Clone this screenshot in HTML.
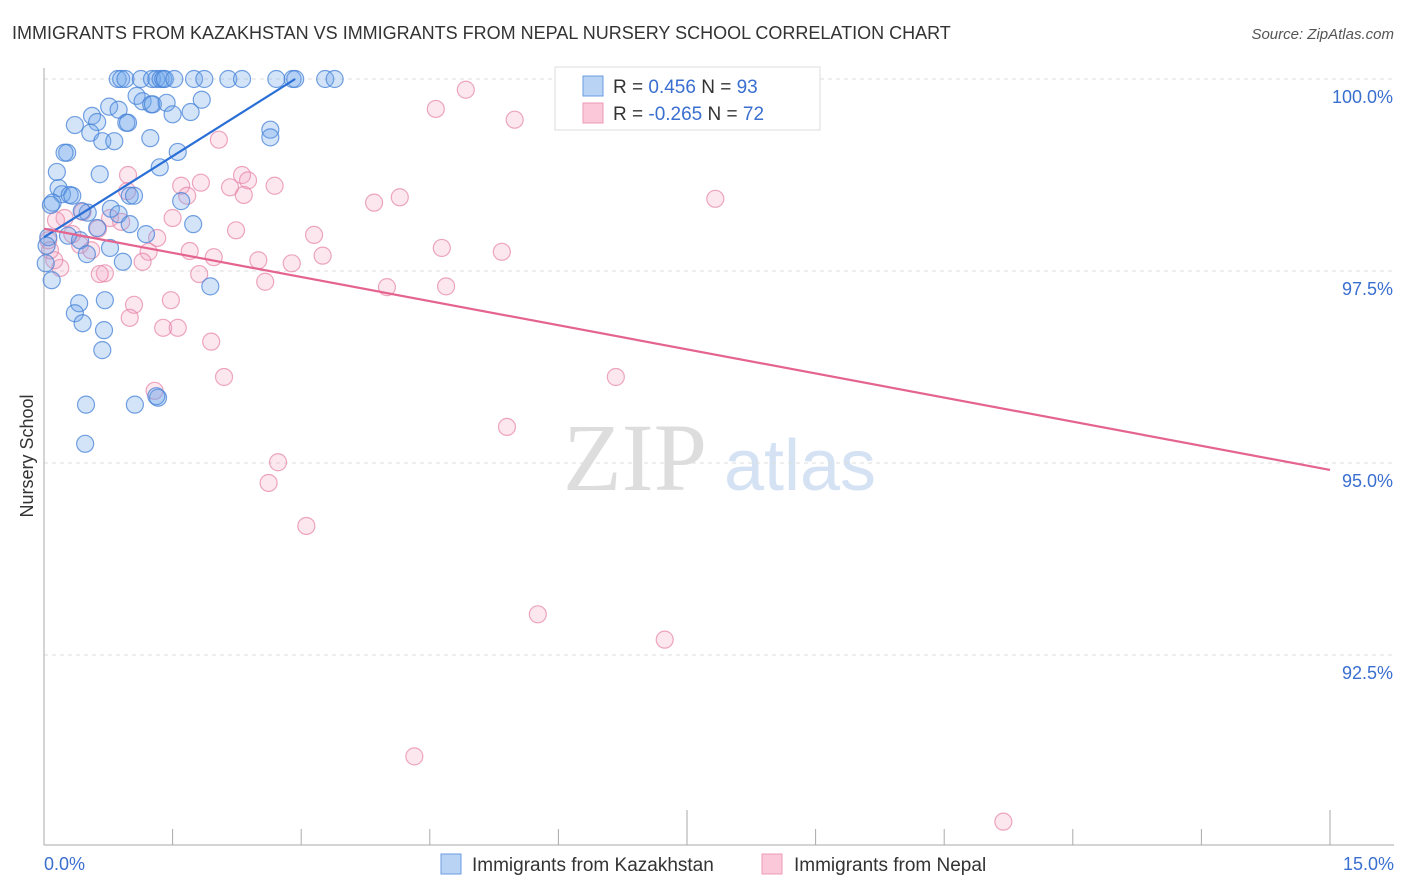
<!DOCTYPE html>
<html><head><meta charset="utf-8"><style>
body{margin:0;background:#fff;font-family:"Liberation Sans",sans-serif;}
svg{display:block}
</style></head><body>
<svg id="c" width="1406" height="892">
<text x="12" y="39" font-size="18" fill="#333">IMMIGRANTS FROM KAZAKHSTAN VS IMMIGRANTS FROM NEPAL NURSERY SCHOOL CORRELATION CHART</text>
<text x="1394" y="39" font-size="15" fill="#555" font-style="italic" text-anchor="end">Source: ZipAtlas.com</text>
<text x="33" y="456" font-size="18" fill="#333" text-anchor="middle" transform="rotate(-90 33 456)">Nursery School</text>
<g><text x="635" y="490" font-size="96" fill="#ddd" font-family="Liberation Serif,serif" text-anchor="middle">ZIP</text><text x="800" y="490" font-size="72" fill="#d4e2f4" text-anchor="middle">atlas</text></g>
<g id="grid"></g><g id="pts"></g><g id="lines"></g>
<g>
<rect x="555" y="67" width="265" height="63" fill="#fff" stroke="#ddd"/>
<rect x="583" y="76" width="20" height="20" fill="#b9d3f5" stroke="#6a9be0"/>
<rect x="583" y="103" width="20" height="20" fill="#fac8d8" stroke="#ec9ab6"/>
<text x="613" y="93" font-size="19" fill="#333">R = <tspan fill="#3a6fd0"> 0.456</tspan>   N = <tspan fill="#3a6fd0">93</tspan></text>
<text x="613" y="120" font-size="19" fill="#333">R = <tspan fill="#3a6fd0">-0.265</tspan>   N = <tspan fill="#3a6fd0">72</tspan></text>
</g>
<g>
<rect x="441" y="854" width="20" height="20" fill="#b9d3f5" stroke="#6a9be0"/>
<text x="472" y="871" font-size="19" fill="#333">Immigrants from Kazakhstan</text>
<rect x="762" y="854" width="20" height="20" fill="#fac8d8" stroke="#ec9ab6"/>
<text x="794" y="871" font-size="19" fill="#333">Immigrants from Nepal</text>
</g>
</svg>
<script>
const blueX=[0.86,0.90,0.95,1.13,1.26,1.31,1.36,1.39,1.41,1.52,1.75,1.87,2.15,2.31,2.71,2.90,2.93,3.28,3.39,1.08,1.15,1.25,1.27,1.43,1.84,0.76,0.87,1.50,1.71,0.56,0.96,0.98,0.36,0.62,0.54,2.64,2.64,0.68,0.82,1.24,0.27,0.24,1.56,1.35,0.15,0.65,0.17,0.21,0.30,0.33,0.10,0.08,1.00,1.05,1.60,0.51,0.78,0.87,0.44,0.62,1.00,1.74,1.19,0.05,0.28,0.42,0.77,0.92,0.50,0.03,0.02,0.09,1.94,0.71,0.41,0.36,0.45,0.70,0.68,0.49,1.06,1.33,1.31,0.48];
const blueY=[100,100,100,100,100,100,100,100,100,100,100,100,100,100,100,100,100,100,100,99.78,99.71,99.67,99.67,99.69,99.73,99.64,99.60,99.54,99.57,99.52,99.43,99.43,99.40,99.44,99.30,99.34,99.24,99.19,99.19,99.23,99.04,99.04,99.05,98.85,98.79,98.76,98.58,98.50,98.49,98.48,98.39,98.36,98.48,98.48,98.41,98.26,98.31,98.24,98.28,98.06,98.11,98.11,97.98,97.94,97.96,97.90,97.80,97.62,97.72,97.83,97.60,97.38,97.30,97.12,97.08,96.95,96.82,96.73,96.47,95.76,95.76,95.85,95.87,95.25];
const pinkX=[6.21,7.21,4.92,4.57,5.49,2.04,0.98,2.31,2.38,2.17,2.69,1.60,0.97,1.83,2.33,1.67,7.83,4.15,3.85,0.77,0.45,0.24,2.24,1.50,0.90,3.15,0.14,0.05,0.42,4.64,5.34,3.25,1.70,1.32,1.22,1.15,2.50,2.89,1.98,2.58,4.00,4.69,1.81,0.71,0.65,0.19,1.05,1.00,1.48,1.39,1.56,1.95,1.29,2.10,6.67,5.40,2.73,2.62,3.06,5.76,7.24,4.32,11.19,0.63,0.33,0.55,6.32,0.12,0.07];
const pinkY=[100,99.99,99.86,99.61,99.47,99.21,98.75,98.75,98.68,98.59,98.61,98.61,98.54,98.65,98.49,98.48,98.44,98.46,98.39,98.19,98.27,98.19,98.03,98.19,98.14,97.97,98.16,97.90,97.84,97.80,97.75,97.70,97.76,97.93,97.75,97.62,97.64,97.60,97.68,97.36,97.29,97.30,97.46,97.47,97.46,97.54,97.06,96.89,97.12,96.76,96.76,96.58,95.94,96.12,96.12,95.47,95.01,94.74,94.18,93.03,92.70,91.18,90.33,98.05,97.98,97.77,99.70,97.64,97.77];
const blueTrend=[[0,97.94],[2.93,100]];
const pinkTrend=[[0,98.05],[15,94.91]];
const yTicks=[100,97.5,95,92.5];
const xTickVals=[0,1.5,3,4.5,6,7.5,9,10.5,12,13.5,15];
const NS='http://www.w3.org/2000/svg';
const sx=v=>44+v*(1286/15), sy=v=>79+(100-v)*76.8;
function mk(t,a,p){const e=document.createElementNS(NS,t);for(const k in a)e.setAttribute(k,a[k]);p.appendChild(e);return e;}
const g=document.getElementById('grid');
yTicks.forEach(v=>{
 const l=mk('line',{x1:44,x2:1394,y1:sy(v),y2:sy(v),stroke:'#ddd','stroke-dasharray':'4,4'},g);
 
 
 const t=mk('text',{x:1393,y:sy(v)+24,'font-size':18,fill:'#3a6fd0','text-anchor':'end'},g);
 t.textContent=v.toFixed(1)+'%';
 
 
});
mk('line',{x1:44,x2:44,y1:68,y2:845,stroke:'#aaa'},g);
mk('line',{x1:44,x2:1394,y1:845,y2:845,stroke:'#aaa'},g);
xTickVals.forEach((v,i)=>{
 const long=(i===0||i===5||i===10);
 const l=mk('line',{x1:sx(v),x2:sx(v),y1:long?810:829,y2:845,stroke:'#aaa'},g);
 
 
});
const xl=mk('text',{x:44,y:870,'font-size':18,fill:'#3a6fd0'},g);xl.textContent='0.0%';


const xr=mk('text',{x:1394,y:870,'font-size':18,fill:'#3a6fd0','text-anchor':'end'},g);xr.textContent='15.0%';


const P=document.getElementById('pts');
pinkX.forEach((x,i)=>{
 const c=mk('circle',{cx:sx(x),cy:sy(pinkY[i]),r:8.5,fill:'rgba(244,160,190,0.25)',stroke:'rgba(230,130,165,0.7)','stroke-width':1.2},P);
 
 
});
blueX.forEach((x,i)=>{
 const c=mk('circle',{cx:sx(x),cy:sy(blueY[i]),r:8.5,fill:'rgba(110,165,235,0.3)',stroke:'rgba(70,130,215,0.75)','stroke-width':1.2},P);
 
 
});
const L=document.getElementById('lines');
const bl=mk('line',{x1:sx(blueTrend[0][0]),y1:sy(blueTrend[0][1]),x2:sx(blueTrend[1][0]),y2:sy(blueTrend[1][1]),stroke:'#2a6fd6','stroke-width':2.2},L);


const pl=mk('line',{x1:sx(pinkTrend[0][0]),y1:sy(pinkTrend[0][1]),x2:sx(pinkTrend[1][0]),y2:sy(pinkTrend[1][1]),stroke:'#e5648f','stroke-width':2.2},L);


</script>
</body></html>
